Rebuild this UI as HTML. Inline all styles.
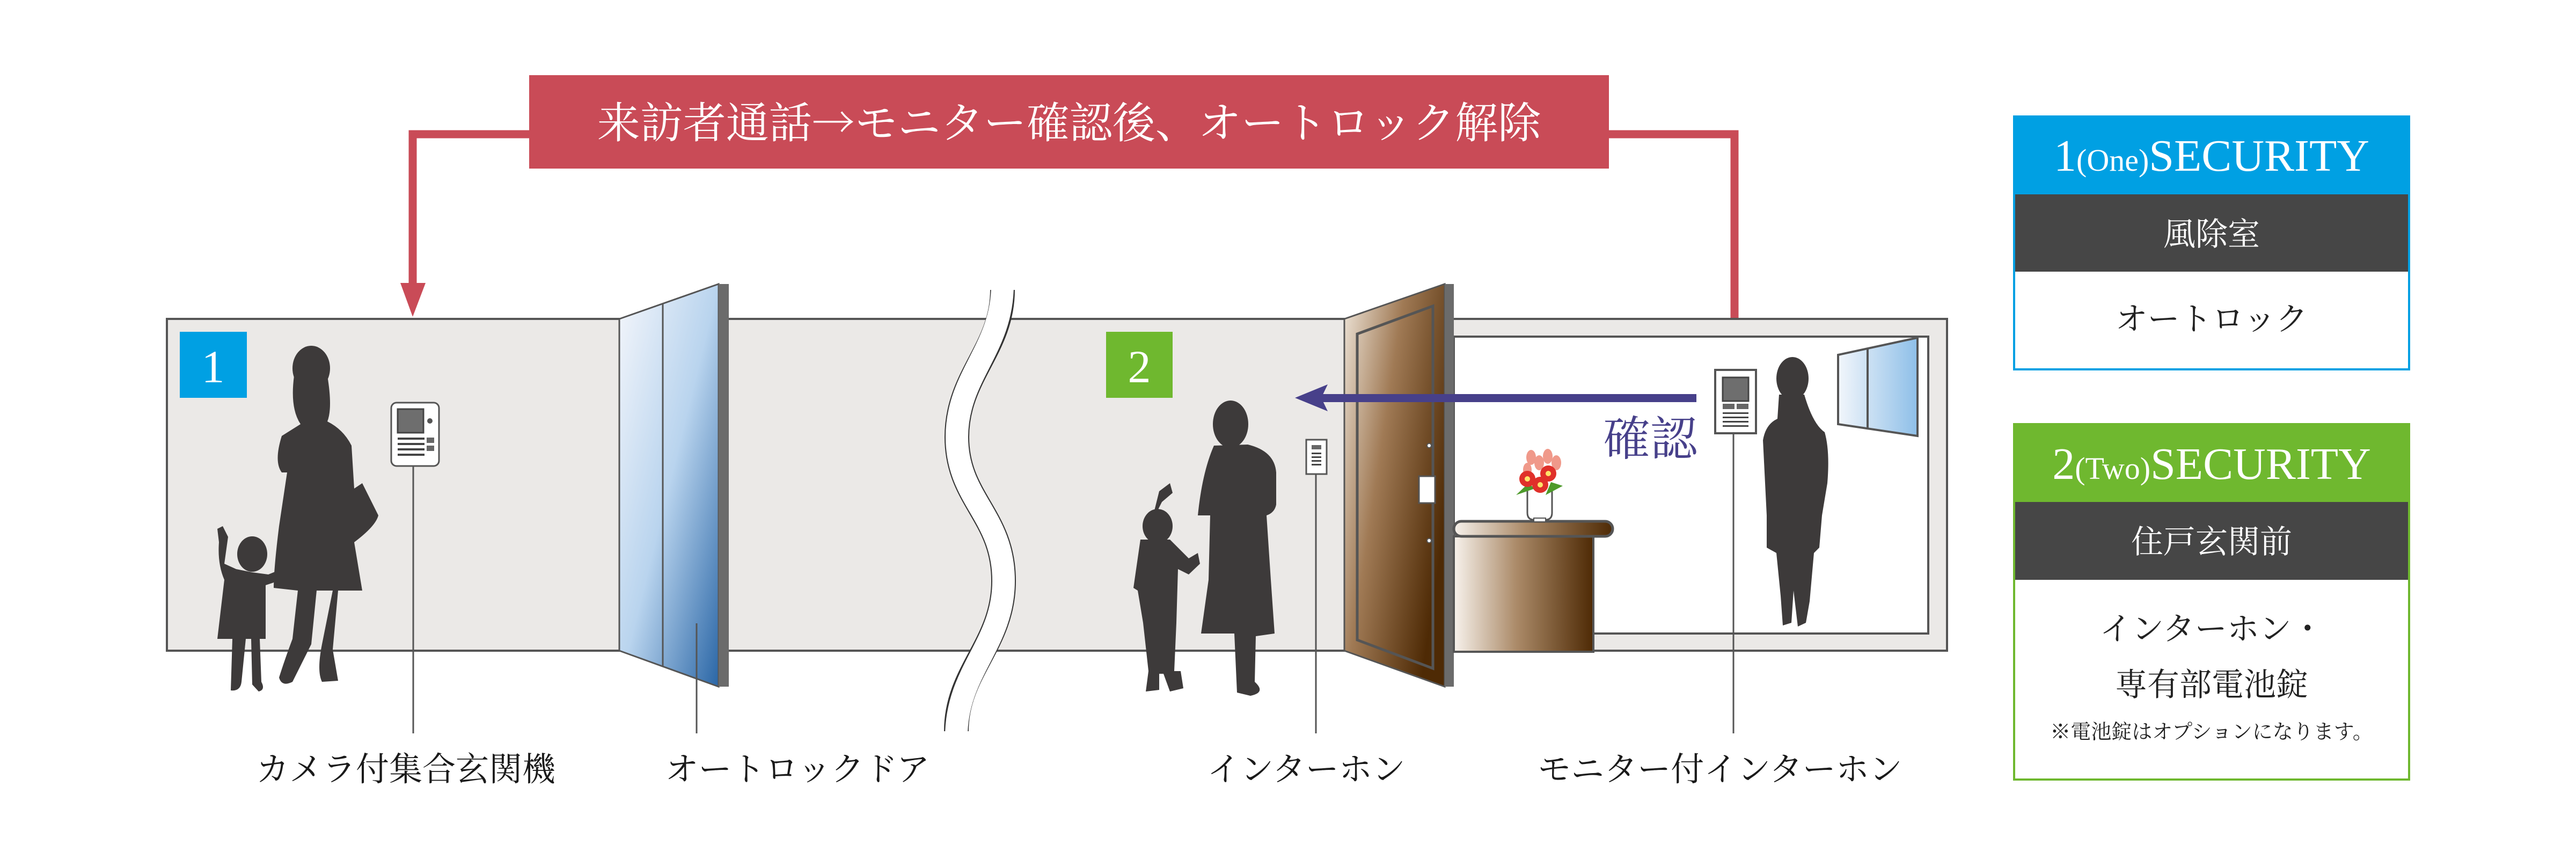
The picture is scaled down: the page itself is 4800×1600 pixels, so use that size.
<!DOCTYPE html>
<html><head><meta charset="utf-8"><style>
html,body{margin:0;padding:0;background:#fff;width:4800px;height:1600px;overflow:hidden}
svg{display:block}
text{font-family:"Liberation Serif","Noto Serif CJK SC","Noto Serif CJK JP",serif}
.cjk{font-family:"Noto Serif CJK SC","Noto Serif CJK JP",serif}
</style></head><body>
<svg width="4800" height="1600" viewBox="0 0 4800 1600" xmlns="http://www.w3.org/2000/svg">
<defs>
<linearGradient id="glass" x1="0" y1="0" x2="1" y2="1">
<stop offset="0" stop-color="#f4f6fb"/><stop offset="0.5" stop-color="#b9d4ee"/><stop offset="1" stop-color="#2a66a6"/></linearGradient>
<linearGradient id="wood" x1="0" y1="0" x2="1" y2="0.6">
<stop offset="0" stop-color="#efe6da"/><stop offset="0.45" stop-color="#a07a55"/><stop offset="1" stop-color="#4e2a05"/></linearGradient>
<linearGradient id="wood2" x1="0" y1="0" x2="1" y2="0">
<stop offset="0" stop-color="#f7f2ec"/><stop offset="0.45" stop-color="#ab8a68"/><stop offset="1" stop-color="#4e2a05"/></linearGradient>
<linearGradient id="win" x1="0" y1="0" x2="1" y2="0">
<stop offset="0" stop-color="#f2f6fb"/><stop offset="1" stop-color="#8ebfe8"/></linearGradient>
</defs>

<rect x="986" y="140" width="2012" height="174" fill="#c94b57"/>
<text x="1992" y="257" font-size="80" fill="#fff" text-anchor="middle" class="cjk">来訪者通話→モニター確認後、オートロック解除</text>
<polyline points="986,250 769,250 769,540" fill="none" stroke="#c94b57" stroke-width="15"/>
<polygon points="746,527 793,527 769,590" fill="#c94b57"/>
<polyline points="2998,250 3232,250 3232,658" fill="none" stroke="#c94b57" stroke-width="15"/>

<rect x="311" y="594" width="2200" height="618" fill="#ebe9e7" stroke="#555" stroke-width="4"/>
<rect x="2700" y="594" width="928" height="618" fill="#ebe9e7" stroke="#555" stroke-width="4"/>
<rect x="2709" y="627" width="884" height="553" fill="#fff" stroke="#555" stroke-width="4"/>

<path d="M1868,540 C1868,650 1783,700 1783,814 C1783,930 1870,960 1870,1082 C1870,1200 1782,1250 1782,1362" fill="none" stroke="#333" stroke-width="46"/>
<path d="M1868,530 C1868,650 1783,700 1783,814 C1783,930 1870,960 1870,1082 C1870,1200 1782,1250 1782,1372" fill="none" stroke="#fff" stroke-width="42"/>

<rect x="335" y="618" width="125" height="123" fill="#00a0e3"/>
<text x="397" y="712" font-size="86" fill="#fff" text-anchor="middle">1</text>
<rect x="2061" y="618" width="124" height="123" fill="#6fb82f"/>
<text x="2123" y="712" font-size="86" fill="#fff" text-anchor="middle">2</text>

<polygon points="1154,594 1339,529 1339,1279 1154,1212" fill="url(#glass)" stroke="#555" stroke-width="3"/>
<line x1="1235" y1="566" x2="1235" y2="1242" stroke="#555" stroke-width="3"/>
<rect x="1339" y="529" width="19" height="750" fill="#6b6b6b"/>

<rect x="729" y="750" width="89" height="118" rx="10" fill="#fff" stroke="#555" stroke-width="3"/>
<rect x="741" y="762" width="48" height="44" fill="#6e6e6e" stroke="#444" stroke-width="3"/>
<circle cx="801" cy="784" r="5" fill="#555"/>
<rect x="741" y="815" width="50" height="4" fill="#444"/><rect x="741" y="825" width="50" height="4" fill="#444"/><rect x="741" y="835" width="50" height="4" fill="#444"/><rect x="741" y="845" width="50" height="4" fill="#444"/>
<rect x="795" y="815" width="14" height="10" fill="#666"/><rect x="795" y="830" width="14" height="10" fill="#666"/>
<line x1="770" y1="868" x2="770" y2="1366" stroke="#555" stroke-width="3"/>
<line x1="1298" y1="1161" x2="1298" y2="1366" stroke="#555" stroke-width="3"/>

<g fill="#3d3a3a">
<ellipse cx="580" cy="686" rx="35" ry="42"/>
<path d="M548,700 Q540,760 560,790 L525,812 Q510,860 525,880 L535,880 L520,980 Q510,1060 510,1095 L555,1100 L545,1190 Q530,1230 520,1262 Q525,1280 545,1270 L580,1200 L590,1100 L620,1100 L600,1200 Q590,1250 600,1270 L630,1268 L620,1210 L630,1100 L675,1100 L660,1010 Q700,980 705,960 L675,900 L660,910 L655,830 Q640,800 610,785 Q620,760 610,700 Z"/>
<ellipse cx="470" cy="1032" rx="28" ry="33"/>
<path d="M405,985 L415,980 L425,1000 L418,1050 L440,1060 L470,1066 L500,1070 L520,1062 L510,1085 L495,1090 L495,1190 L484,1190 L487,1270 Q495,1285 482,1288 L470,1275 L468,1190 L458,1190 L450,1270 Q448,1288 430,1286 L433,1190 L405,1190 L418,1080 Q405,1050 408,1010 Z"/>
</g>

<polygon points="2505,594 2692,529 2692,1279 2505,1212" fill="url(#wood)" stroke="#555" stroke-width="3"/>
<polygon points="2529,622 2670,570 2670,1245 2529,1192" fill="none" stroke="#555" stroke-width="5"/>
<rect x="2692" y="529" width="17" height="750" fill="#6b6b6b"/>
<rect x="2644" y="887" width="30" height="50" fill="#fff" stroke="#555" stroke-width="3"/>
<circle cx="2663" cy="830" r="4" fill="#fff" stroke="#555" stroke-width="2"/>
<circle cx="2663" cy="1007" r="4" fill="#fff" stroke="#555" stroke-width="2"/>

<rect x="2709" y="999" width="260" height="215" fill="url(#wood2)" stroke="#555" stroke-width="4"/>
<rect x="2709" y="971" width="296" height="28" rx="14" fill="url(#wood2)" stroke="#555" stroke-width="5"/>
<path d="M2846,910 L2846,955 Q2846,968 2858,968 L2880,968 Q2892,968 2892,955 L2892,910" fill="#fff" stroke="#555" stroke-width="3"/>
<rect x="2858" y="965" width="22" height="7" fill="#fff" stroke="#555" stroke-width="2"/>
<g>
<ellipse cx="2853" cy="852" rx="9" ry="14" fill="#f0998a"/><ellipse cx="2868" cy="862" rx="9" ry="14" fill="#f0998a"/><ellipse cx="2884" cy="850" rx="9" ry="14" fill="#f0998a"/><ellipse cx="2900" cy="862" rx="9" ry="14" fill="#f0998a"/><ellipse cx="2846" cy="875" rx="8" ry="13" fill="#f0998a"/>
<path d="M2825,922 L2848,900 L2860,910 Z M2912,905 L2890,898 L2880,922 Z" fill="#4d9a2a"/>
<circle cx="2846" cy="892" r="15" fill="#e0302a"/><circle cx="2846" cy="892" r="5" fill="#ffe46a"/>
<circle cx="2885" cy="882" r="15" fill="#e0302a"/><circle cx="2885" cy="882" r="5" fill="#ffe46a"/>
<circle cx="2870" cy="903" r="15" fill="#e0302a"/><circle cx="2870" cy="903" r="5" fill="#ffe46a"/>
</g>

<polygon points="3425,661 3573,629 3573,812 3425,790" fill="url(#win)" stroke="#555" stroke-width="4"/>
<line x1="3480" y1="650" x2="3480" y2="798" stroke="#555" stroke-width="4"/>

<rect x="2434" y="819" width="38" height="64" fill="#fff" stroke="#555" stroke-width="3"/>
<rect x="2444" y="829" width="18" height="8" fill="#666"/>
<rect x="2444" y="843" width="18" height="3" fill="#444"/><rect x="2444" y="850" width="18" height="3" fill="#444"/><rect x="2444" y="857" width="18" height="3" fill="#444"/><rect x="2444" y="864" width="18" height="3" fill="#444"/>
<line x1="2452" y1="883" x2="2452" y2="1366" stroke="#555" stroke-width="3"/>

<rect x="3196" y="689" width="76" height="118" fill="#fff" stroke="#555" stroke-width="4"/>
<rect x="3210" y="703" width="48" height="44" fill="#6e6e6e" stroke="#444" stroke-width="3"/>
<rect x="3210" y="752" width="22" height="10" fill="#666"/><rect x="3236" y="752" width="22" height="10" fill="#666"/>
<rect x="3210" y="768" width="48" height="3" fill="#444"/><rect x="3210" y="776" width="48" height="3" fill="#444"/><rect x="3210" y="784" width="48" height="3" fill="#444"/><rect x="3210" y="792" width="48" height="3" fill="#444"/>
<line x1="3230" y1="807" x2="3230" y2="1366" stroke="#555" stroke-width="3"/>

<rect x="2460" y="734" width="701" height="15" fill="#47408a"/>
<polygon points="2413,741 2474,716 2462,741 2474,766" fill="#47408a"/>
<text x="3163" y="848" font-size="88" fill="#47408a" text-anchor="end" class="cjk">確認</text>

<g fill="#3d3a3a">
<ellipse cx="2293" cy="790" rx="33" ry="44"/>
<path d="M2262,830 L2325,828 Q2375,840 2378,880 L2378,940 Q2375,955 2360,960 L2368,1080 L2375,1180 L2340,1185 L2338,1270 Q2360,1290 2330,1296 L2305,1290 L2300,1180 L2238,1180 L2252,1080 L2255,960 L2232,960 Q2240,880 2262,830 Z"/>
<ellipse cx="2157" cy="980" rx="28" ry="32"/>
<path d="M2160,915 L2180,900 L2185,918 L2165,935 L2155,955 L2150,955 Z"/>
<path d="M2125,1005 L2180,1005 L2215,1040 L2232,1030 L2236,1050 L2215,1070 L2195,1060 L2192,1160 L2188,1250 L2200,1250 L2205,1282 L2180,1288 L2168,1255 L2160,1255 L2160,1285 L2135,1288 L2140,1250 L2130,1160 L2120,1100 L2112,1095 Z"/>
<ellipse cx="3340" cy="705" rx="30" ry="40"/>
<path d="M3315,735 L3362,735 Q3378,790 3400,805 Q3410,840 3405,900 L3395,960 L3390,1020 L3380,1030 L3372,1120 L3365,1160 L3350,1167 L3342,1100 L3338,1160 L3322,1165 L3318,1110 L3310,1030 L3292,1020 L3292,960 L3285,820 Q3290,790 3312,780 Z"/>
</g>

<g font-size="62" fill="#1a1a1a" text-anchor="middle" class="cjk">
<text x="756" y="1454" class="cjk">カメラ付集合玄関機</text>
<text x="1486" y="1454" class="cjk">オートロックドア</text>
<text x="2434" y="1454" class="cjk">インターホン</text>
<text x="3205" y="1454" class="cjk">モニター付インターホン</text>
</g>

<rect x="3753" y="217" width="736" height="471" fill="#fff" stroke="#00a0e3" stroke-width="4"/>
<rect x="3751" y="215" width="740" height="147" fill="#00a0e3"/>
<rect x="3755" y="362" width="732" height="144" fill="#464646"/>
<text x="4121" y="318" font-size="84" fill="#fff" text-anchor="middle">1<tspan font-size="58">(One)</tspan>SECURITY</text>
<text x="4121" y="457" font-size="60" fill="#fff" text-anchor="middle" class="cjk">風除室</text>
<text x="4121" y="615" font-size="60" fill="#222" text-anchor="middle" class="cjk">オートロック</text>

<rect x="3753" y="790" width="736" height="662" fill="#fff" stroke="#6fb82f" stroke-width="4"/>
<rect x="3751" y="788" width="740" height="147" fill="#6fb82f"/>
<rect x="3755" y="935" width="732" height="145" fill="#464646"/>
<text x="4121" y="892" font-size="84" fill="#fff" text-anchor="middle">2<tspan font-size="58">(Two)</tspan>SECURITY</text>
<text x="4121" y="1030" font-size="60" fill="#fff" text-anchor="middle" class="cjk">住戸玄関前</text>
<text x="4121" y="1192" font-size="60" fill="#222" text-anchor="middle" class="cjk">インターホン・</text>
<text x="4121" y="1296" font-size="60" fill="#222" text-anchor="middle" class="cjk">専有部電池錠</text>
<text x="4121" y="1376" font-size="38" fill="#222" text-anchor="middle" class="cjk">※電池錠はオプションになります。</text>
</svg>
</body></html>
